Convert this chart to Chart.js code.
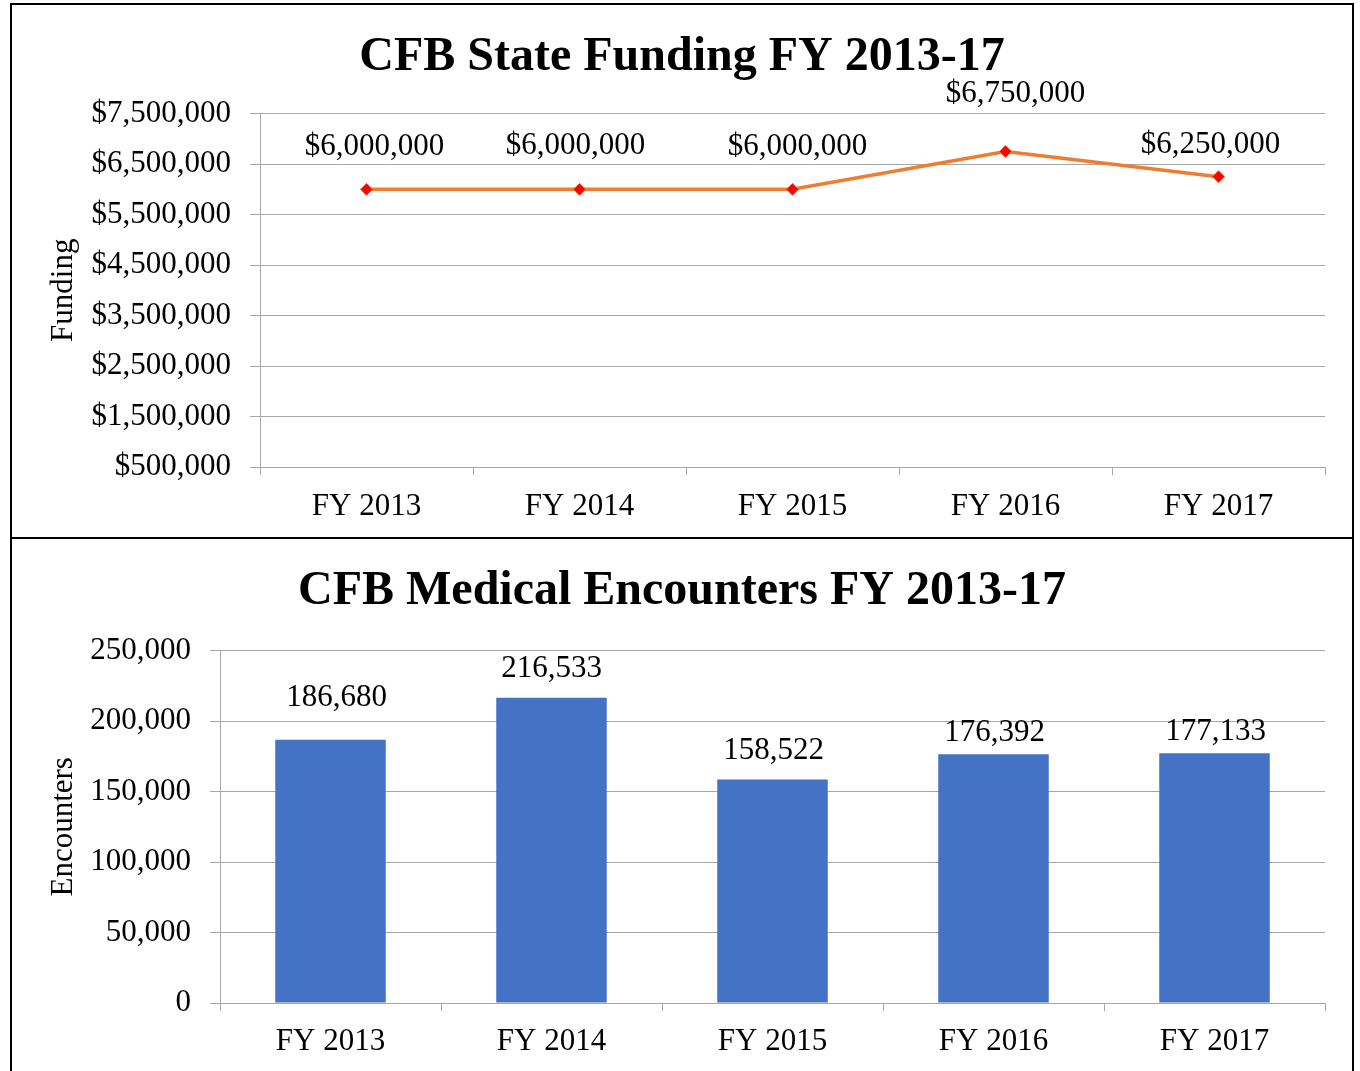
<!DOCTYPE html>
<html>
<head>
<meta charset="utf-8">
<script src="https://cdn.jsdelivr.net/npm/chart.js@4.4.1/dist/chart.umd.min.js"></script>
<style>
  body { margin: 0; background: #fff; }
  .box { position: absolute; left: 10px; width: 1340px; border: 2px solid #000; background: #fff; }
  #topBox { top: 3px; height: 533px; }
  #botBox { top: 537px; height: 540px; }
  canvas { display: block; }
</style>
</head>
<body>
<div class="box" id="topBox"><canvas id="fundingChart" width="1340" height="533"></canvas></div>
<div class="box" id="botBox"><canvas id="encounterChart" width="1340" height="540"></canvas></div>
<script>
// chart data
const years = ['FY 2013', 'FY 2014', 'FY 2015', 'FY 2016', 'FY 2017'];
const funding = [6000000, 6000000, 6000000, 6750000, 6250000];
const encounters = [186680, 216533, 158522, 176392, 177133];

// where the value labels sit relative to their point (px)
const fundingLabelShift = [[8, -42], [-4, -43], [5, -42], [10, -58], [-8, -32]];
const encounterLabelShift = [[6, -42], [0, -29], [1, -29], [1, -21], [1, -21]];

const FONT = '"Liberation Serif", "Times New Roman", serif';
const GRID = '#a6a6a6';
Chart.defaults.font.family = FONT;
Chart.defaults.color = '#000';
Chart.defaults.animation = false;

// draws value labels above each point / bar
const valueLabels = {
  id: 'valueLabels',
  afterDatasetsDraw(chart, args, opts) {
    const ctx = chart.ctx;
    const meta = chart.getDatasetMeta(0);
    ctx.save();
    ctx.font = '31px ' + FONT;
    ctx.fillStyle = '#000';
    ctx.textAlign = 'center';
    ctx.textBaseline = 'middle';
    meta.data.forEach((el, i) => {
      const v = chart.data.datasets[0].data[i];
      const s = opts.shift[i];
      ctx.fillText(opts.format(v), el.x + s[0], el.y + s[1]);
    });
    ctx.restore();
  }
};

function baseOptions(titleText, yTitle, yWidth, yMin, yMax, yStep, yFmt, pads) {
  return {
    responsive: false,
    layout: { padding: { left: 27, right: 27, top: 0, bottom: pads.bottom } },
    plugins: {
      legend: { display: false },
      tooltip: { enabled: false },
      title: {
        display: true,
        text: titleText,
        font: { size: 48, weight: 'bold', family: FONT },
        color: '#000',
        padding: { top: 24, bottom: pads.title }
      }
    },
    scales: {
      x: {
        offset: true,
        grid: { offset: true, drawOnChartArea: false, drawTicks: true, tickLength: 8, color: GRID },
        border: { color: GRID },
        ticks: { font: { size: 31 }, padding: pads.xLabel, maxRotation: 0 },
        afterFit(scale) { scale.height = 60; }
      },
      y: {
        min: yMin,
        max: yMax,
        grid: { color: GRID, tickLength: 10 },
        border: { color: GRID },
        ticks: { stepSize: yStep, font: { size: 31 }, padding: 19, callback: yFmt },
        title: { display: true, text: yTitle, font: { size: 31 }, padding: { top: 6, bottom: 0 } },
        afterFit(scale) { scale.width = yWidth; }
      }
    }
  };
}

const money = v => '$' + v.toLocaleString('en-US');
const plain = v => v.toLocaleString('en-US');

const fOpts = baseOptions('CFB State Funding FY 2013-17', 'Funding', 221, 500000, 7500000, 1000000, money,
  { bottom: 11, title: 27, xLabel: 13 });
fOpts.plugins.valueLabels = { shift: fundingLabelShift, format: money };
new Chart(document.getElementById('fundingChart'), {
  type: 'line',
  data: {
    labels: years,
    datasets: [{
      data: funding,
      borderColor: '#ED7D31',
      borderWidth: 3.5,
      pointStyle: 'rectRot',
      pointRadius: 6,
      pointBackgroundColor: '#FF0000',
      pointBorderColor: '#F05a28',
      pointBorderWidth: 1,
      tension: 0
    }]
  },
  options: fOpts,
  plugins: [valueLabels]
});

const eOpts = baseOptions('CFB Medical Encounters FY 2013-17', 'Encounters', 181, 0, 250000, 50000, plain,
  { bottom: 16, title: 30, xLabel: 12 });
eOpts.plugins.valueLabels = { shift: encounterLabelShift, format: plain };
new Chart(document.getElementById('encounterChart'), {
  type: 'bar',
  data: {
    labels: years,
    datasets: [{
      data: encounters,
      backgroundColor: '#4472C4',
      barPercentage: 0.5,
      categoryPercentage: 1.0
    }]
  },
  options: eOpts,
  plugins: [valueLabels]
});
</script>
</body>
</html>
